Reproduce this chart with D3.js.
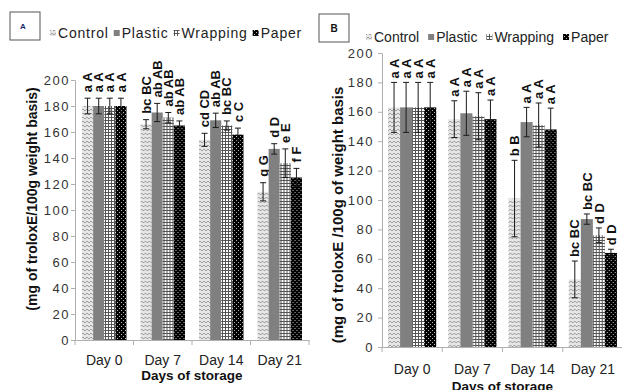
<!DOCTYPE html>
<html>
<head>
<meta charset="utf-8">
<script src="https://cdn.jsdelivr.net/npm/d3@7"></script>
<style>
  body { margin: 0; background: #fff; }
  text { font-family: 'Liberation Sans', Arial, sans-serif; }
</style>
</head>
<body>
<div id="chart"></div>
<script>
const days = ['Day 0', 'Day 7', 'Day 14', 'Day 21'];
const series = ['Control', 'Plastic', 'Wrapping', 'Paper'];
const yTicks = [0, 20, 40, 60, 80, 100, 120, 140, 160, 180, 200];

// panel A
const aControl = [180, 166, 154, 114];
const aPlastic = [180, 175, 169, 147];
const aWrapping = [180, 171, 165, 136];
const aPaper = [180, 165, 158, 125];
const aControlErr = [6, 3.5, 5, 7];
const aPlasticErr = [6, 7, 5.5, 4];
const aWrappingErr = [6, 4, 3.5, 11];
const aPaperErr = [6, 3.5, 5, 7];
const aControlLbl = ['a A', 'bc BC', 'cd CD', 'g G'];
const aPlasticLbl = ['a A', 'ab AB', 'ab AB', 'd D'];
const aWrappingLbl = ['a A', 'ab AB', 'bc BC', 'e E'];
const aPaperLbl = ['a A', 'ab AB', 'c C', 'f F'];

// panel B
const bControl = [163, 155, 101, 46];
const bPlastic = [163, 159, 153, 87];
const bWrapping = [163, 157, 151, 76];
const bPaper = [163, 155, 148, 64];
const bControlErr = [17, 12.5, 26, 12.5];
const bPlasticErr = [17, 15, 10, 3.5];
const bWrappingErr = [17, 16, 15, 5];
const bPaperErr = [17, 13, 14.5, 2.5];
const bControlLbl = ['a A', 'a A', 'b B', 'bc BC'];
const bPlasticLbl = ['a A', 'a A', 'a A', 'bc BC'];
const bWrappingLbl = ['a A', 'a A', 'a A', 'd D'];
const bPaperLbl = ['a A', 'a A', 'a A', 'd D'];

const svg = d3.select('#chart').append('svg')
  .attr('width', 622)
  .attr('height', 390);

// fill patterns, one per series
const defs = svg.append('defs');
const pc = defs.append('pattern').attr('id', 'p-Control')
  .attr('patternUnits', 'userSpaceOnUse').attr('width', 4).attr('height', 4);
pc.append('rect').attr('width', 4).attr('height', 4).attr('fill', '#e6e6e6');
pc.append('path').attr('d', 'M0,1 L2,3 L4,1').attr('fill', 'none')
  .attr('stroke', '#a0a0a0').attr('stroke-width', 1);

const pw = defs.append('pattern').attr('id', 'p-Wrapping')
  .attr('patternUnits', 'userSpaceOnUse').attr('width', 3).attr('height', 3);
pw.append('rect').attr('width', 3).attr('height', 3).attr('fill', '#fff');
pw.append('path').attr('d', 'M0,0.5 H3 M0.5,0 V3').attr('stroke', '#555').attr('stroke-width', 1);

const pp = defs.append('pattern').attr('id', 'p-Paper')
  .attr('patternUnits', 'userSpaceOnUse').attr('width', 4).attr('height', 4);
pp.append('rect').attr('width', 4).attr('height', 4).attr('fill', '#000');
pp.append('rect').attr('x', 0).attr('y', 0).attr('width', 1).attr('height', 1).attr('fill', '#bbb');
pp.append('rect').attr('x', 2).attr('y', 2).attr('width', 1).attr('height', 1).attr('fill', '#bbb');

const fillOf = (s) => (s === 'Plastic' ? '#808080' : `url(#p-${s})`);

function buildRows(vals, errs, lbls) {
  return days.map((day, i) => ({
    day,
    items: series.map((s, j) => ({ series: s, value: vals[j][i], err: errs[j][i], label: lbls[j][i] })),
  }));
}

function drawLegend(g, x, y, fs, ls, gap) {
  let cx = x;
  series.forEach((s) => {
    g.append('rect')
      .attr('x', cx).attr('y', y - 8)
      .attr('width', 6).attr('height', 6)
      .attr('fill', fillOf(s));
    const t = g.append('text')
      .attr('x', cx + 8).attr('y', y)
      .attr('font-size', fs + 'px')
      .attr('letter-spacing', ls + 'px')
      .attr('fill', '#222')
      .text(s);
    cx += 8 + t.node().getComputedTextLength() + gap;
  });
}

function drawPanel(p) {
  const g = svg.append('g');
  const x0 = d3.scaleBand().domain(days).range([p.left, p.right]);
  const bw = x0.bandwidth();
  const x1 = d3.scaleBand().domain(series).range([bw * p.pad, bw * (1 - p.pad)]);
  const y = d3.scaleLinear().domain([0, 200]).range([p.bottom, p.top]);

  // y axis
  const ya = g.append('g')
    .attr('transform', `translate(${p.left},0)`)
    .call(d3.axisLeft(y).tickValues(yTicks).tickSize(4).tickSizeOuter(4).tickPadding(p.tickPad));
  ya.select('.domain').attr('stroke', '#b0b0b0');
  ya.selectAll('.tick line').attr('stroke', '#b0b0b0');
  ya.selectAll('.tick text')
    .attr('font-size', '13px')
    .attr('letter-spacing', '1.5px')
    .attr('fill', '#333')
    .style('font-family', "'Liberation Sans', Arial, sans-serif");

  // x axis
  const xa = g.append('g')
    .attr('transform', `translate(0,${p.bottom})`)
    .call(d3.axisBottom(x0).tickSize(0).tickSizeOuter(0));
  xa.select('.domain').attr('stroke', '#b0b0b0');
  xa.selectAll('.tick text')
    .attr('y', p.dayY).attr('dy', 0)
    .attr('font-size', '14px')
    .attr('fill', '#222')
    .style('font-family', "'Liberation Sans', Arial, sans-serif");
  const bounds = days.map((d) => x0(d)).concat([p.right]);
  xa.selectAll('.bound').data(bounds).enter().append('line')
    .attr('class', 'bound')
    .attr('x1', (d) => d).attr('x2', (d) => d)
    .attr('y1', 0).attr('y2', 5)
    .attr('stroke', '#b0b0b0');

  const rows = buildRows(p.vals, p.errs, p.lbls);
  const grp = g.selectAll('.grp').data(rows).enter().append('g')
    .attr('transform', (d) => `translate(${x0(d.day)},0)`);

  const items = grp.selectAll('.it').data((d) => d.items).enter().append('g');

  items.append('rect')
    .attr('x', (d) => x1(d.series))
    .attr('y', (d) => y(d.value))
    .attr('width', x1.bandwidth())
    .attr('height', (d) => p.bottom - y(d.value))
    .attr('fill', (d) => fillOf(d.series));

  const cxOf = (d) => x1(d.series) + x1.bandwidth() / 2;
  items.append('line')
    .attr('x1', cxOf).attr('x2', cxOf)
    .attr('y1', (d) => y(d.value + d.err)).attr('y2', (d) => y(d.value - d.err))
    .attr('stroke', '#1a1a1a').attr('stroke-width', 1);
  [1, -1].forEach((sgn) => {
    items.append('line')
      .attr('x1', (d) => cxOf(d) - 3).attr('x2', (d) => cxOf(d) + 3)
      .attr('y1', (d) => y(d.value + sgn * d.err)).attr('y2', (d) => y(d.value + sgn * d.err))
      .attr('stroke', '#1a1a1a').attr('stroke-width', 1);
  });

  items.append('text')
    .attr('transform', (d) => `translate(${cxOf(d)},${y(d.value + d.err) - p.lblGap}) rotate(-90)`)
    .attr('dy', '0.36em')
    .attr('font-size', '13px')
    .attr('font-weight', 'bold')
    .attr('fill', '#111')
    .text((d) => d.label);

  // axis titles
  g.append('text')
    .attr('transform', `translate(${p.ylabX},${p.ylabY}) rotate(-90)`)
    .attr('text-anchor', 'middle')
    .attr('dy', '0.35em')
    .attr('font-size', p.ylabFs + 'px')
    .attr('font-weight', 'bold')
    .attr('fill', '#111')
    .text(p.ylab);
  g.append('text')
    .attr('x', (p.left + p.right) / 2).attr('y', p.xlabY)
    .attr('text-anchor', 'middle')
    .attr('font-size', '13.5px')
    .attr('font-weight', 'bold')
    .attr('fill', '#111')
    .text('Days of storage');

  // panel tag box
  g.append('rect')
    .attr('x', p.box[0]).attr('y', p.box[1])
    .attr('width', 30).attr('height', 28)
    .attr('fill', '#fff').attr('stroke', '#555');
  g.append('text')
    .attr('x', p.box[0] + 15 + p.tagDx).attr('y', p.box[1] + 14)
    .attr('dy', '0.35em')
    .attr('text-anchor', 'middle')
    .attr('font-size', p.tagFs + 'px')
    .attr('font-weight', 'bold')
    .attr('fill', p.tagColor)
    .text(p.tag);

  drawLegend(g, p.legX, p.legY, 14, p.legLs, p.legGap);
}

drawPanel({
  left: 75, right: 309, top: 80, bottom: 340, pad: 0.12, tickPad: 1, lblGap: 6,
  vals: [aControl, aPlastic, aWrapping, aPaper],
  errs: [aControlErr, aPlasticErr, aWrappingErr, aPaperErr],
  lbls: [aControlLbl, aPlasticLbl, aWrappingLbl, aPaperLbl],
  dayY: 25, xlabY: 380,
  ylab: '(mg of troloxE/100g weight basis)', ylabX: 32, ylabY: 199, ylabFs: 14,
  box: [10, 12], tag: 'A', tagFs: 8, tagDx: -2, tagColor: '#1b2a6b',
  legX: 50, legY: 38, legLs: 0.8, legGap: 5,
});

drawPanel({
  left: 382, right: 623, top: 53, bottom: 347, pad: 0.1, tickPad: 4, lblGap: 4,
  vals: [bControl, bPlastic, bWrapping, bPaper],
  errs: [bControlErr, bPlasticErr, bWrappingErr, bPaperErr],
  lbls: [bControlLbl, bPlasticLbl, bWrappingLbl, bPaperLbl],
  dayY: 27, xlabY: 391,
  ylab: '(mg of troloxE /100g of weight basis', ylabX: 338, ylabY: 215, ylabFs: 15,
  box: [319, 14], tag: 'B', tagFs: 10, tagDx: 0, tagColor: '#111',
  legX: 366, legY: 42, legLs: 0, legGap: 9,
});
</script>
</body>
</html>
